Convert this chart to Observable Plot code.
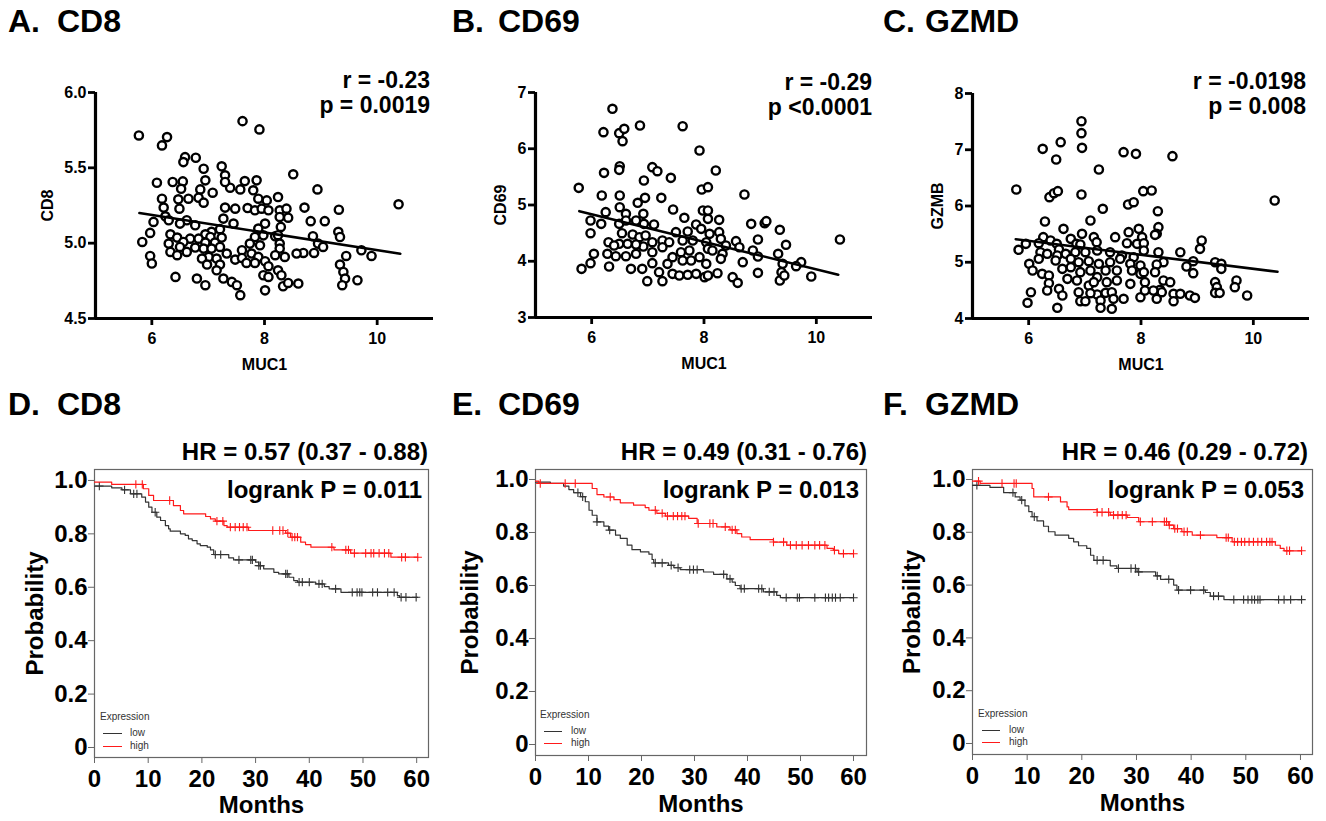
<!DOCTYPE html>
<html><head><meta charset="utf-8">
<script src="https://cdn.jsdelivr.net/npm/d3@7"></script>
<script src="https://cdn.jsdelivr.net/npm/@observablehq/plot@0.6"></script>
<style>
html,body{margin:0;padding:0;background:#fff;}
#root{position:relative;width:1326px;height:821px;overflow:hidden;font-family:"Liberation Sans",Arial,Helvetica,sans-serif;color:#000;}
.abs{position:absolute;white-space:pre;}
.title{font-size:32px;font-weight:bold;line-height:32px;}
.stat{font-size:23px;font-weight:bold;line-height:25px;text-align:right;}
.km{font-size:24px;font-weight:bold;line-height:24px;text-align:right;}
.leg{font-size:10px;line-height:12px;color:#333;}
.legline{position:absolute;height:0;border-top:1.3px solid;}
</style></head>
<body><div id="root"></div>
<script>
// ---------- DATA ----------
const panelLetters = ["A.", "B.", "C.", "D.", "E.", "F."];
const panelNames = ["CD8", "CD69", "GZMD", "CD8", "CD69", "GZMD"];
const scatterYLabels = ["CD8", "CD69", "GZMB"];
const scatterXLabel = "MUC1";
const corrR = ["r = -0.23", "r = -0.29", "r = -0.0198"];
const corrP = ["p = 0.0019", "p <0.0001", "p = 0.008"];
const hrTexts = ["HR = 0.57 (0.37 - 0.88)", "HR = 0.49 (0.31 - 0.76)", "HR = 0.46 (0.29 - 0.72)"];
const logrankTexts = ["logrank P = 0.011", "logrank P = 0.013", "logrank P = 0.053"];
const legendTitle = "Expression";
const groups = ["low", "high"];
const groupColors = ["#333333", "#ff1a1a"];

const muc1Ticks = [6, 8, 10];
const cd8Ticks = [4.5, 5.0, 5.5, 6.0];
const cd69Ticks = [3, 4, 5, 6, 7];
const gzmbTicks = [4, 5, 6, 7, 8];
const monthTicks = [0, 10, 20, 30, 40, 50, 60];
const probTicks = [0, 0.2, 0.4, 0.6, 0.8, 1.0];

const cd8Points = [[5.77,5.715],[7.61,5.81],[7.91,5.755],[6.27,5.704],[6.18,5.649],[6.59,5.571],[6.78,5.567],[6.56,5.538],[6.92,5.494],[7.24,5.510],[7.30,5.45],[7.39,5.368],[7.57,5.357],[7.65,5.412],[7.86,5.417],[7.80,5.351],[7.30,5.406],[6.09,5.401],[6.37,5.406],[6.55,5.41],[6.52,5.361],[6.86,5.357],[6.95,5.417],[7.08,5.335],[6.83,5.302],[6.92,5.269],[6.65,5.295],[6.47,5.291],[6.18,5.295],[8.04,5.284],[7.89,5.295],[6.21,5.236],[6.49,5.229],[7.30,5.236],[7.48,5.229],[7.70,5.233],[7.83,5.218],[7.95,5.229],[6.24,5.178],[6.03,5.141],[7.45,5.130],[7.27,5.163],[6.77,5.119],[6.62,5.152],[6.50,5.130],[6.30,5.152],[8.01,5.130],[7.89,5.097],[5.97,5.068],[5.83,5.008],[6.33,5.059],[6.45,5.037],[7.21,5.093],[7.06,5.075],[6.95,5.059],[6.68,5.030],[6.83,5.030],[7.04,5.041],[7.24,5.037],[7.98,5.052],[7.83,5.041],[6.30,4.997],[6.56,5.008],[6.95,5.004],[7.12,5.004],[7.74,4.997],[6.50,4.975],[6.77,4.971],[6.92,4.964],[7.06,4.964],[7.21,4.975],[7.92,4.986],[6.62,4.942],[6.33,4.942],[6.45,4.920],[7.33,4.931],[7.60,4.953],[7.77,4.931],[7.89,4.909],[7.01,4.909],[5.97,4.915],[6.89,4.898],[7.15,4.898],[7.48,4.891],[7.60,4.902],[7.68,4.869],[7.83,4.869],[8.01,4.880],[7.21,4.858],[6.98,4.858],[6.00,4.865],[7.15,4.820],[7.98,4.787],[6.42,4.776],[6.80,4.765],[7.27,4.765],[7.42,4.743],[7.51,4.721],[6.95,4.721],[8.01,4.687],[7.57,4.655],[8.51,5.457],[8.94,5.357],[10.38,5.258],[8.24,5.306],[8.07,5.218],[8.27,5.218],[8.39,5.229],[8.42,5.169],[8.27,5.174],[8.71,5.236],[9.32,5.222],[8.82,5.146],[9.07,5.146],[8.29,5.108],[8.19,5.046],[8.24,5.053],[8.86,5.046],[9.31,5.075],[9.34,5.041],[8.95,4.997],[9.04,4.975],[8.88,4.935],[8.69,4.935],[8.57,4.931],[8.27,4.997],[8.27,4.964],[8.19,4.920],[8.36,4.909],[9.45,4.915],[9.72,4.953],[9.90,4.915],[9.34,4.858],[9.40,4.809],[9.43,4.765],[9.38,4.721],[9.65,4.754],[8.07,4.847],[8.07,4.776],[8.24,4.820],[8.30,4.787],[8.33,4.714],[8.42,4.736],[8.60,4.732]];

const cd69Points = [[6.37,6.71],[6.21,6.295],[6.49,6.277],[6.58,6.354],[6.55,6.135],[6.86,6.413],[7.62,6.401],[7.92,5.969],[6.22,5.572],[6.50,5.690],[6.49,5.625],[7.08,5.673],[7.17,5.601],[6.93,5.436],[7.41,5.483],[5.77,5.305],[6.18,5.169],[6.50,5.169],[6.82,5.039],[6.95,5.127],[7.24,5.127],[7.96,5.276],[8.07,5.317],[6.50,4.961],[6.25,4.873],[5.98,4.724],[5.98,4.499],[6.17,4.665],[6.61,4.843],[6.92,4.843],[7.45,4.920],[7.65,4.772],[7.98,4.902],[8.07,4.754],[6.49,4.665],[6.61,4.724],[6.79,4.724],[6.93,4.665],[7.11,4.653],[7.50,4.517],[7.71,4.529],[7.86,4.653],[7.95,4.576],[8.10,4.487],[6.54,4.499],[6.30,4.339],[6.49,4.310],[6.73,4.476],[6.85,4.428],[6.96,4.458],[7.08,4.339],[7.26,4.369],[7.38,4.339],[7.62,4.369],[7.80,4.369],[8.04,4.339],[6.28,4.132],[6.43,4.090],[6.61,4.090],[6.79,4.132],[6.92,4.262],[7.08,4.161],[7.26,4.250],[7.44,4.073],[7.59,4.161],[7.74,4.191],[7.92,4.073],[6.04,4.132],[5.98,3.966],[5.82,3.865],[6.31,3.907],[6.70,3.865],[6.90,3.865],[7.08,3.966],[7.20,3.806],[7.26,3.646],[6.99,3.646],[7.44,3.776],[7.56,3.747],[7.71,3.759],[7.86,3.776],[8.01,3.717],[7.35,3.954],[7.62,4.013],[7.77,4.013],[8.04,3.954],[6.64,4.310],[6.79,4.298],[6.40,4.280],[8.21,5.613],[8.72,5.187],[10.42,4.387],[8.07,4.902],[8.27,4.736],[8.27,4.517],[8.30,4.398],[8.84,4.665],[9.08,4.677],[9.11,4.713],[9.35,4.559],[8.57,4.357],[8.96,4.387],[9.46,4.292],[9.32,4.132],[8.07,4.221],[8.15,4.191],[8.39,4.280],[8.33,4.132],[8.30,4.043],[8.63,4.250],[8.87,4.191],[8.96,4.084],[9.40,3.954],[9.73,3.984],[9.64,3.913],[8.07,3.747],[8.24,3.788],[8.51,3.717],[8.60,3.616],[8.69,3.984],[8.96,3.794],[9.35,3.658],[9.38,3.806],[9.43,3.747],[9.91,3.729]];

const gzmbPoints = [[6.94,7.508],[6.94,7.295],[6.95,7.034],[6.57,7.135],[6.25,7.016],[6.49,6.827],[7.25,6.649],[7.69,6.957],[7.91,6.927],[5.78,6.293],[6.37,6.157],[6.45,6.228],[6.52,6.264],[6.94,6.204],[7.32,5.950],[7.77,6.027],[7.87,6.068],[8.04,6.264],[6.29,5.724],[7.10,5.742],[6.62,5.594],[6.26,5.446],[5.95,5.327],[5.82,5.221],[6.18,5.339],[6.39,5.387],[6.50,5.327],[6.54,5.227],[6.75,5.416],[6.85,5.327],[6.95,5.505],[6.92,5.316],[7.16,5.446],[7.21,5.357],[7.54,5.446],[7.78,5.535],[7.96,5.594],[8.02,5.446],[7.75,5.339],[7.93,5.327],[6.21,5.179],[6.33,5.150],[6.51,5.120],[6.66,5.150],[6.83,5.179],[7.01,5.179],[7.22,5.209],[7.45,5.179],[7.66,5.120],[7.87,5.090],[6.01,4.972],[6.18,5.061],[6.48,5.031],[6.75,5.061],[6.89,5.001],[7.07,5.019],[7.25,4.972],[7.45,5.001],[7.63,5.061],[7.81,4.972],[7.99,4.942],[6.07,4.853],[6.24,4.794],[6.36,4.764],[6.60,4.883],[6.75,4.913],[6.92,4.824],[7.10,4.853],[7.37,4.853],[7.57,4.853],[7.84,4.853],[7.99,4.794],[6.69,4.705],[6.86,4.676],[7.22,4.735],[7.39,4.646],[7.57,4.676],[7.81,4.616],[6.36,4.628],[6.33,4.498],[6.54,4.527],[6.60,4.409],[6.04,4.468],[5.98,4.279],[6.89,4.468],[6.92,4.308],[7.01,4.308],[7.22,4.427],[7.37,4.456],[7.28,4.320],[7.48,4.468],[7.51,4.350],[7.69,4.350],[7.99,4.379],[6.51,4.190],[7.28,4.190],[7.48,4.172],[7.07,4.587],[7.16,4.646],[7.10,4.450],[8.56,6.886],[10.38,6.098],[8.19,6.276],[8.30,5.908],[8.31,5.624],[8.28,5.505],[8.25,5.487],[8.05,5.339],[8.05,5.209],[8.31,5.179],[8.70,5.179],[9.08,5.387],[9.05,5.238],[8.93,5.019],[8.81,4.924],[8.93,4.806],[9.32,5.001],[9.43,4.972],[9.43,4.883],[8.40,5.001],[8.28,4.960],[8.25,4.824],[8.05,4.824],[8.07,4.646],[8.40,4.676],[8.52,4.646],[8.34,4.510],[8.37,4.468],[8.22,4.498],[8.07,4.498],[8.28,4.350],[8.58,4.439],[8.70,4.439],[8.58,4.308],[8.87,4.409],[8.96,4.367],[9.32,4.646],[9.35,4.557],[9.32,4.456],[9.40,4.456],[9.70,4.676],[9.67,4.557],[9.89,4.409]];

const cd8Fit = [[5.78, 5.20], [10.41, 4.93]];
const cd69Fit = [[5.78, 4.89], [10.39, 3.76]];
const gzmbFit = [[5.77, 5.41], [10.43, 4.83]];

// Kaplan-Meier curves (months, survival probability, censor times)
const cd8LowTime = [0,3.2,5.1,6.7,8.8,9.5,10.1,10.7,11.6,12.3,13.2,13.8,14.1,16.0,16.9,17.5,18.2,19.1,19.7,21.0,21.6,22.2,25.0,25.9,30.0,30.6,31.5,33.4,34.3,36.2,37.1,37.8,41.2,42.8,43.7,45.9,56.4,56.8,60.2];
const cd8LowSurv = [0.979,0.9725,0.965,0.95,0.9375,0.919,0.9,0.881,0.8625,0.85,0.831,0.819,0.81,0.8,0.794,0.781,0.775,0.7625,0.756,0.75,0.74,0.7225,0.71,0.7025,0.694,0.681,0.669,0.656,0.65,0.6375,0.625,0.619,0.6125,0.6025,0.594,0.581,0.569,0.5625,0.5625];
const cd8LowCensor = [0.9,5.6,7.3,7.9,11.3,22.5,23.5,26.9,29.1,29.4,30.6,30.9,35.6,35.9,38.1,38.7,40.0,41.8,42.4,44.9,48.0,48.9,49.4,49.8,51.8,52.7,54.6,55.8,57.1,58.0,59.9];
const cd8HighTime = [0,3.2,9.1,10.1,11.0,14.7,16.0,16.6,20.7,21.6,22.5,24.1,24.7,28.7,35.6,36.5,38.4,39.3,40.3,44.6,47.7,55.2,60.2];
const cd8HighSurv = [0.994,0.985,0.969,0.944,0.925,0.906,0.8875,0.875,0.865,0.856,0.8475,0.831,0.825,0.8125,0.8025,0.7875,0.769,0.76,0.75,0.74,0.7275,0.7125,0.7125];
const cd8HighCensor = [7.7,8.9,14.0,22.8,23.9,25.3,26.2,27.0,27.7,28.4,33.2,34.5,35.1,36.0,36.8,37.3,37.8,44.2,46.8,47.3,48.4,50.5,51.5,52.0,53.0,54.0,54.8,57.2,57.9,60.2];

const cd69LowTime = [0,2.8,5.3,6.3,7.2,8.5,9.4,10.1,10.7,11.6,12.9,13.8,15.1,16.0,17.3,18.2,19.8,21.4,22.0,22.3,25.1,26.1,27.3,31.7,33.6,36.1,37.1,37.7,38.6,43.0,45.5,46.2,60.0];
const cd69LowSurv = [0.99,0.985,0.975,0.962,0.95,0.935,0.916,0.884,0.865,0.84,0.824,0.809,0.79,0.778,0.752,0.735,0.727,0.718,0.698,0.685,0.676,0.667,0.66,0.651,0.642,0.625,0.613,0.6,0.588,0.576,0.563,0.554,0.554];
const cd69LowCensor = [8.0,8.9,11.6,14.0,22.6,23.9,25.6,26.9,29.1,29.8,30.5,35.5,36.7,38.8,39.4,42.1,42.7,44.1,45.0,47.3,49.4,49.8,52.7,54.7,55.3,56.0,56.6,57.5,60.0];
const cd69HighTime = [0,0.6,10.7,11.6,12.9,14.8,16.0,18.5,20.7,21.4,22.9,24.5,28.9,30.5,34.2,36.7,38.0,38.9,40.5,44.9,47.4,55.0,56.2,57.2,60.0];
const cd69HighSurv = [0.994,0.985,0.966,0.943,0.934,0.924,0.912,0.903,0.894,0.884,0.872,0.862,0.853,0.834,0.821,0.81,0.796,0.783,0.773,0.764,0.752,0.74,0.733,0.72,0.72];
const cd69HighCensor = [0.9,5.6,7.5,14.1,22.6,23.9,24.9,26.0,26.8,27.6,28.2,30.7,32.9,33.5,35.8,37.1,37.7,44.9,46.8,48.1,49.2,50.3,51.5,52.7,53.6,54.6,56.4,58.1,60.0];

const gzmdLowTime = [0,3.2,5.7,7.8,8.7,9.6,10.3,10.9,11.8,13.0,13.9,15.1,17.6,18.5,19.4,20.9,21.6,22.2,25.2,26.4,30.1,33.5,34.4,36.8,37.4,42.6,43.5,46.0,60.2];
const gzmdLowSurv = [0.978,0.97,0.95,0.934,0.922,0.9,0.878,0.859,0.843,0.823,0.802,0.789,0.777,0.764,0.749,0.739,0.713,0.694,0.673,0.663,0.65,0.635,0.622,0.6,0.581,0.572,0.558,0.545,0.545];
const gzmdLowCensor = [0.8,7.4,9.0,11.3,22.8,23.9,26.7,29.0,29.8,30.4,33.8,35.9,37.7,39.9,42.3,44.1,45.0,47.8,49.6,50.4,51.1,51.6,52.2,52.6,56.0,57.0,58.2,60.2];
const gzmdHighTime = [0,1.4,10.9,11.2,16.1,17.3,17.6,22.8,25.2,28.3,30.4,35.9,36.8,38.3,40.2,44.7,47.5,55.4,56.3,57.0,60.2];
const gzmdHighSurv = [0.994,0.985,0.966,0.934,0.915,0.896,0.886,0.876,0.865,0.856,0.84,0.827,0.814,0.802,0.789,0.78,0.764,0.751,0.739,0.73,0.73];
const gzmdHighCensor = [1.1,5.4,7.6,8.0,13.9,22.8,23.7,24.9,25.8,26.6,27.4,28.1,30.7,32.9,35.1,35.5,36.0,37.0,37.5,38.7,39.3,41.7,46.4,46.8,47.9,48.5,49.2,49.8,50.6,51.4,52.2,52.9,53.8,54.4,54.8,57.5,58.0,60.2];

// ---------- LAYOUT ----------
const FONT = '"Liberation Sans", Arial, Helvetica, sans-serif';
const root = document.getElementById("root");
function addDiv(cls, text, css) {
  const d = document.createElement("div");
  d.className = "abs " + cls;
  d.textContent = text;
  Object.assign(d.style, css);
  root.appendChild(d);
  return d;
}
function addSvg(svg, left, top) {
  svg.style.position = "absolute";
  svg.style.left = left + "px";
  svg.style.top = top + "px";
  root.appendChild(svg);
}

const titlePos = [[8,57,5],[452,498,5],[883,925,5],[8,57,388],[452,498,388],[883,925,388]];
panelLetters.forEach((l, i) => {
  const [x1, x2, top] = titlePos[i];
  addDiv("title", l, {left: x1 + "px", top: top + "px"});
  addDiv("title", panelNames[i], {left: x2 + "px", top: top + "px"});
});

const muc1Domain = [5, 11];
const scatterCfg = [
  {points: cd8Points, fit: cd8Fit, yDomain: [4.5, 6.0], yTicks: cd8Ticks, yFmt: d3.format(".1f"), left: 0, width: 440, ml: 95, mr: 7, mt: 32, mb: 82, ylo: 54, statRight: 430, statTop: 68},
  {points: cd69Points, fit: cd69Fit, yDomain: [3, 7], yTicks: cd69Ticks, yFmt: d3.format("d"), left: 440, width: 440, ml: 95, mr: 8, mt: 32, mb: 83, ylo: 41, statRight: 872, statTop: 70},
  {points: gzmbPoints, fit: gzmbFit, yDomain: [4, 8], yTicks: gzmbTicks, yFmt: d3.format("d"), left: 880, width: 446, ml: 92, mr: 17, mt: 33, mb: 82, ylo: 41, statRight: 1306, statTop: 69}
];

scatterCfg.forEach((c, i) => {
  const svg = Plot.plot({
    width: c.width, height: 340,
    marginLeft: c.ml, marginRight: c.mr, marginTop: c.mt, marginBottom: c.mb,
    style: {fontFamily: FONT, fontWeight: "bold", color: "#000", background: "transparent", overflow: "visible"},
    x: {domain: muc1Domain},
    y: {domain: c.yDomain},
    marks: [
      Plot.axisX(muc1Ticks, {tickSize: 7, tickPadding: 7, strokeWidth: 2.8, fontSize: 16, label: scatterXLabel, labelAnchor: "center", labelOffset: 51, labelArrow: "none"}),
      Plot.axisY(c.yTicks, {tickFormat: c.yFmt, tickSize: 7, tickPadding: 2, strokeWidth: 2.8, fontSize: 16, label: scatterYLabels[i], labelAnchor: "center", labelOffset: c.ylo, labelArrow: "none"}),
      Plot.ruleX([muc1Domain[0]], {stroke: "#000", strokeWidth: 3.2}),
      Plot.ruleY([c.yDomain[0]], {stroke: "#000", strokeWidth: 3.2}),
      Plot.dot(c.points, {x: d => d[0], y: d => d[1], r: 4.1, fill: "white", stroke: "black", strokeWidth: 2.4}),
      Plot.line(c.fit, {x: d => d[0], y: d => d[1], stroke: "black", strokeWidth: 2.6})
    ]
  });
  addSvg(svg, c.left, 60);
  addDiv("stat", corrR[i] + "\n" + corrP[i], {right: (1326 - c.statRight) + "px", top: c.statTop + "px"});
});

function steps(time, surv) { return time.map((t, i) => ({t, s: surv[i]})); }
function censorPoints(time, surv, cens) {
  return cens.map(c => ({t: c, s: surv[Math.max(0, d3.bisectRight(time, c) - 1)]}));
}

const kmCfg = [
  {low: [cd8LowTime, cd8LowSurv, cd8LowCensor], high: [cd8HighTime, cd8HighSurv, cd8HighCensor], left: 0, width: 440, ml: 94, mr: 12, mb: 64, xMax: 62.2, yDom: [-0.0375, 1.041], ylo: 69, xlo: 55, hrRight: 428, lrRight: 422, leg: [100, 711, 103, 19, 130, 733, 13]},
  {low: [cd69LowTime, cd69LowSurv, cd69LowCensor], high: [cd69HighTime, cd69HighSurv, cd69HighCensor], left: 440, width: 440, ml: 95, mr: 14, mb: 66, xMax: 62.45, yDom: [-0.0415, 1.0377], ylo: 75, xlo: 56, hrRight: 867, lrRight: 859, leg: [540, 709, 544, 18, 571, 731, 12]},
  {low: [gzmdLowTime, gzmdLowSurv, gzmdLowCensor], high: [gzmdHighTime, gzmdHighSurv, gzmdHighCensor], left: 880, width: 446, ml: 92, mr: 14, mb: 67, xMax: 62.2, yDom: [-0.0417, 1.0379], ylo: 70, xlo: 56, hrRight: 1308, lrRight: 1304, leg: [978, 708, 982, 18, 1009, 730, 12]}
];

kmCfg.forEach((c, i) => {
  const series = [c.low, c.high];
  const marks = [
    Plot.frame({stroke: "#666", strokeWidth: 1.2}),
    Plot.axisX(monthTicks, {tickSize: 6, tickPadding: 6, stroke: "#666", fill: "#000", fontSize: 24, label: "Months", labelAnchor: "center", labelOffset: c.xlo, labelArrow: "none"}),
    Plot.axisY(probTicks, {tickFormat: d => d === 0 ? "0" : d3.format(".1f")(d), tickSize: 6, tickPadding: 1, stroke: "#666", fill: "#000", fontSize: 24, label: "Probability", labelAnchor: "center", labelOffset: c.ylo, labelArrow: "none"})
  ];
  series.forEach((s, k) => {
    marks.push(Plot.line(steps(s[0], s[1]), {x: "t", y: "s", curve: "step-after", stroke: groupColors[k], strokeWidth: 1.2}));
    marks.push(Plot.dot(censorPoints(s[0], s[1], s[2]), {x: "t", y: "s", symbol: "plus", r: 2.8, stroke: groupColors[k], strokeWidth: 1.1}));
  });
  const svg = Plot.plot({
    width: c.width, height: 381,
    marginLeft: c.ml, marginRight: c.mr, marginTop: 29, marginBottom: c.mb,
    style: {fontFamily: FONT, fontWeight: "bold", color: "#000", background: "transparent", overflow: "visible"},
    x: {domain: [0, c.xMax]},
    y: {domain: c.yDom},
    marks
  });
  addSvg(svg, c.left, 440);
  addDiv("km", hrTexts[i], {right: (1326 - c.hrRight) + "px", top: "440px"});
  addDiv("km", logrankTexts[i], {right: (1326 - c.lrRight) + "px", top: "478px"});
  const [lx, ly, lineX, lineW, textX, rowY, gap] = c.leg;
  addDiv("leg", legendTitle, {left: lx + "px", top: ly + "px"});
  groups.forEach((g, k) => {
    const y = rowY + k * gap;
    const ln = document.createElement("div");
    ln.className = "legline";
    Object.assign(ln.style, {left: lineX + "px", top: y + "px", width: lineW + "px", borderTopColor: groupColors[k]});
    root.appendChild(ln);
    addDiv("leg", g, {left: textX + "px", top: (y - 6) + "px"});
  });
});
</script></body></html>
